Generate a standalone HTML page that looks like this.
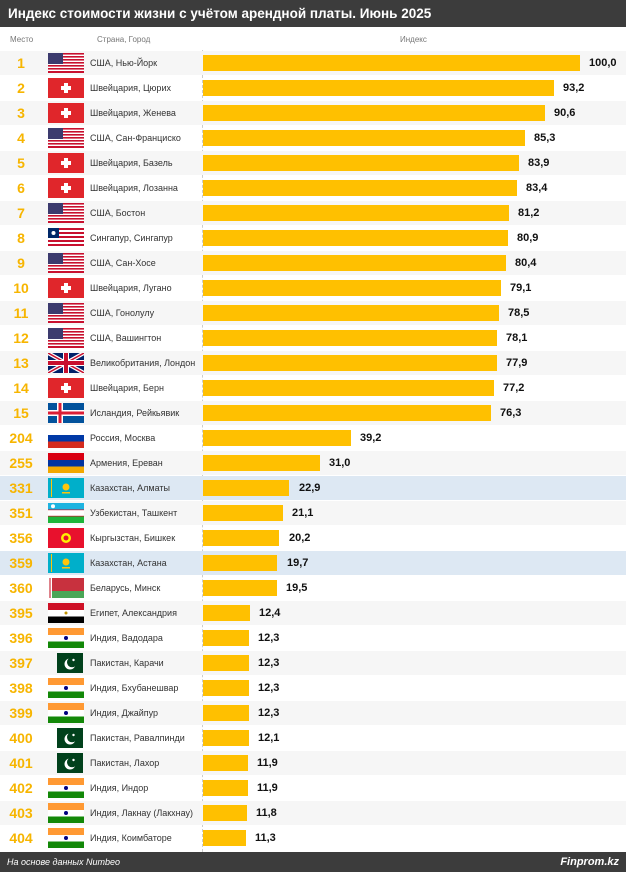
<!DOCTYPE html>
<html><head><meta charset="utf-8"><style>
*{margin:0;padding:0;box-sizing:border-box}
body{width:626px;height:872px;background:#fff;font-family:"Liberation Sans",sans-serif;position:relative;overflow:hidden}
.hd{position:absolute;left:0;top:0;width:626px;height:27px;background:#3c3c3c;color:#fff;font-weight:bold;font-size:13.5px;line-height:27px;padding-left:8px}
.ch{position:absolute;top:35px;font-size:8px;color:#777}
.ft{position:absolute;left:0;top:852px;width:626px;height:20px;background:#3c3c3c;color:#fff;font-style:italic;font-size:9px;line-height:20px;padding:0 7px}
.ft b{float:right;font-size:11px}
.r{position:absolute;left:0;width:626px;height:24px}
.r:nth-child(odd){background:#f6f6f6}
.r.kz{background:#dde8f3!important}
.n{position:absolute;left:0;width:42px;text-align:center;color:#f7b500;font-weight:bold;font-size:14px;line-height:24px}
.f{position:absolute;left:48px;top:2px}
.t{position:absolute;left:90px;font-size:9px;color:#333;line-height:24px}
.b{position:absolute;left:203px;top:4px;height:16px;background:#ffc000}
.v{position:absolute;font-size:11px;font-weight:bold;color:#111;line-height:24px;transform:translateX(3px)}
.dl{position:absolute;left:202px;top:50px;height:802px;border-left:1px dashed #ccc}
</style></head><body>
<div class="hd">Индекс стоимости жизни с учётом арендной платы. Июнь 2025</div>
<div class="ch" style="left:10px">Место</div>
<div class="ch" style="left:97px">Страна, Город</div>
<div class="ch" style="left:400px">Индекс</div>
<svg width="0" height="0" style="position:absolute"><defs>
<g id="us"><rect width="36" height="20" fill="#fff"/><g fill="#c8102e"><rect y="0" width="36" height="1.6"/><rect y="3" width="36" height="1.6"/><rect y="6" width="36" height="1.6"/><rect y="9" width="36" height="1.6"/><rect y="12" width="36" height="1.6"/><rect y="15" width="36" height="1.6"/><rect y="18" width="36" height="2"/></g><rect width="15" height="11" fill="#3c3b6e"/></g>
<g id="ch"><rect width="36" height="20" fill="#e0262b"/><rect x="16" y="5" width="4" height="10" fill="#fff"/><rect x="13" y="8" width="10" height="4" fill="#fff"/></g>
<g id="lr"><rect width="36" height="20" fill="#fff"/><g fill="#c8102e"><rect y="0" width="36" height="2"/><rect y="4" width="36" height="2"/><rect y="8" width="36" height="2"/><rect y="12" width="36" height="2"/><rect y="16" width="36" height="2"/></g><rect width="11" height="10" fill="#002868"/><circle cx="5.5" cy="5" r="2" fill="#fff"/></g>
<g id="gb"><rect width="36" height="20" fill="#012169"/><path d="M0 0L36 20M36 0L0 20" stroke="#fff" stroke-width="4"/><path d="M0 0L36 20M36 0L0 20" stroke="#c8102e" stroke-width="1.5"/><rect x="15" width="6" height="20" fill="#fff"/><rect y="7" width="36" height="6" fill="#fff"/><rect x="16" width="4" height="20" fill="#c8102e"/><rect y="8" width="36" height="4" fill="#c8102e"/></g>
<g id="is"><rect width="36" height="20" fill="#02529c"/><rect x="9" width="6" height="20" fill="#fff"/><rect y="7" width="36" height="6" fill="#fff"/><rect x="10.5" width="3" height="20" fill="#dc1e35"/><rect y="8.5" width="36" height="3" fill="#dc1e35"/></g>
<g id="ru"><rect width="36" height="7" fill="#fff"/><rect y="7" width="36" height="7" fill="#0039a6"/><rect y="13.5" width="36" height="6.5" fill="#d52b1e"/></g>
<g id="am"><rect width="36" height="7" fill="#d90012"/><rect y="7" width="36" height="7" fill="#0033a0"/><rect y="13.5" width="36" height="6.5" fill="#f2a800"/></g>
<g id="kz"><rect width="36" height="20" fill="#00afca"/><rect x="3" y="1" width="1" height="18" fill="#fec50c"/><circle cx="18" cy="9" r="3.5" fill="#fec50c"/><rect x="14" y="14" width="8" height="1.5" fill="#fec50c"/></g>
<g id="uz"><rect width="36" height="6.5" fill="#1eb3e0"/><rect y="6.5" width="36" height="7" fill="#fff"/><rect y="13.5" width="36" height="6.5" fill="#1eb53a"/><rect y="6.5" width="36" height=".7" fill="#ce1126"/><rect y="12.8" width="36" height=".7" fill="#ce1126"/><circle cx="5" cy="3.2" r="2" fill="#fff"/></g>
<g id="kg"><rect width="36" height="20" fill="#e8112d"/><circle cx="18" cy="10" r="5" fill="#ffef00"/><circle cx="18" cy="10" r="2.5" fill="#e8112d"/></g>
<g id="by"><rect width="36" height="13" fill="#c8313e"/><rect y="13" width="36" height="7" fill="#4aa657"/><rect width="4" height="20" fill="#fff"/><rect x="1" width="2" height="20" fill="#c8313e" opacity=".6"/></g>
<g id="eg"><rect width="36" height="7" fill="#ce1126"/><rect y="7" width="36" height="6.5" fill="#fff"/><rect y="13.5" width="36" height="6.5" fill="#000"/><circle cx="18" cy="10" r="1.5" fill="#c09300"/></g>
<g id="in"><rect width="36" height="7" fill="#ff9933"/><rect y="7" width="36" height="6.5" fill="#fff"/><rect y="13.5" width="36" height="6.5" fill="#138808"/><circle cx="18" cy="10" r="2" fill="#000080"/></g>
<g id="pk"><rect x="9" width="26" height="20" fill="#01411c"/><circle cx="22" cy="11" r="5.5" fill="#fff"/><circle cx="24" cy="9.3" r="5" fill="#01411c"/><circle cx="25.5" cy="7" r="1.2" fill="#fff"/></g>
</defs></svg>
<div class="dl"></div>
<div id="rows">
<div class="r" style="top:51px"><div class="n">1</div><svg class="f" width="36" height="20"><use href="#us"/></svg><div class="t">США, Нью-Йорк</div><div class="b" style="width:377px"></div><div class="v" style="left:586px">100,0</div></div>
<div class="r" style="top:76px"><div class="n">2</div><svg class="f" width="36" height="20"><use href="#ch"/></svg><div class="t">Швейцария, Цюрих</div><div class="b" style="width:351px"></div><div class="v" style="left:560px">93,2</div></div>
<div class="r" style="top:101px"><div class="n">3</div><svg class="f" width="36" height="20"><use href="#ch"/></svg><div class="t">Швейцария, Женева</div><div class="b" style="width:342px"></div><div class="v" style="left:551px">90,6</div></div>
<div class="r" style="top:126px"><div class="n">4</div><svg class="f" width="36" height="20"><use href="#us"/></svg><div class="t">США, Сан-Франциско</div><div class="b" style="width:322px"></div><div class="v" style="left:531px">85,3</div></div>
<div class="r" style="top:151px"><div class="n">5</div><svg class="f" width="36" height="20"><use href="#ch"/></svg><div class="t">Швейцария, Базель</div><div class="b" style="width:316px"></div><div class="v" style="left:525px">83,9</div></div>
<div class="r" style="top:176px"><div class="n">6</div><svg class="f" width="36" height="20"><use href="#ch"/></svg><div class="t">Швейцария, Лозанна</div><div class="b" style="width:314px"></div><div class="v" style="left:523px">83,4</div></div>
<div class="r" style="top:201px"><div class="n">7</div><svg class="f" width="36" height="20"><use href="#us"/></svg><div class="t">США, Бостон</div><div class="b" style="width:306px"></div><div class="v" style="left:515px">81,2</div></div>
<div class="r" style="top:226px"><div class="n">8</div><svg class="f" width="36" height="20"><use href="#lr"/></svg><div class="t">Сингапур, Сингапур</div><div class="b" style="width:305px"></div><div class="v" style="left:514px">80,9</div></div>
<div class="r" style="top:251px"><div class="n">9</div><svg class="f" width="36" height="20"><use href="#us"/></svg><div class="t">США, Сан-Хосе</div><div class="b" style="width:303px"></div><div class="v" style="left:512px">80,4</div></div>
<div class="r" style="top:276px"><div class="n">10</div><svg class="f" width="36" height="20"><use href="#ch"/></svg><div class="t">Швейцария, Лугано</div><div class="b" style="width:298px"></div><div class="v" style="left:507px">79,1</div></div>
<div class="r" style="top:301px"><div class="n">11</div><svg class="f" width="36" height="20"><use href="#us"/></svg><div class="t">США, Гонолулу</div><div class="b" style="width:296px"></div><div class="v" style="left:505px">78,5</div></div>
<div class="r" style="top:326px"><div class="n">12</div><svg class="f" width="36" height="20"><use href="#us"/></svg><div class="t">США, Вашингтон</div><div class="b" style="width:294px"></div><div class="v" style="left:503px">78,1</div></div>
<div class="r" style="top:351px"><div class="n">13</div><svg class="f" width="36" height="20"><use href="#gb"/></svg><div class="t">Великобритания, Лондон</div><div class="b" style="width:294px"></div><div class="v" style="left:503px">77,9</div></div>
<div class="r" style="top:376px"><div class="n">14</div><svg class="f" width="36" height="20"><use href="#ch"/></svg><div class="t">Швейцария, Берн</div><div class="b" style="width:291px"></div><div class="v" style="left:500px">77,2</div></div>
<div class="r" style="top:401px"><div class="n">15</div><svg class="f" width="36" height="20"><use href="#is"/></svg><div class="t">Исландия, Рейкьявик</div><div class="b" style="width:288px"></div><div class="v" style="left:497px">76,3</div></div>
<div class="r" style="top:426px"><div class="n">204</div><svg class="f" width="36" height="20"><use href="#ru"/></svg><div class="t">Россия, Москва</div><div class="b" style="width:148px"></div><div class="v" style="left:357px">39,2</div></div>
<div class="r" style="top:451px"><div class="n">255</div><svg class="f" width="36" height="20"><use href="#am"/></svg><div class="t">Армения, Ереван</div><div class="b" style="width:117px"></div><div class="v" style="left:326px">31,0</div></div>
<div class="r kz" style="top:476px"><div class="n">331</div><svg class="f" width="36" height="20"><use href="#kz"/></svg><div class="t">Казахстан, Алматы</div><div class="b" style="width:86px"></div><div class="v" style="left:296px">22,9</div></div>
<div class="r" style="top:501px"><div class="n">351</div><svg class="f" width="36" height="20"><use href="#uz"/></svg><div class="t">Узбекистан, Ташкент</div><div class="b" style="width:80px"></div><div class="v" style="left:289px">21,1</div></div>
<div class="r" style="top:526px"><div class="n">356</div><svg class="f" width="36" height="20"><use href="#kg"/></svg><div class="t">Кыргызстан, Бишкек</div><div class="b" style="width:76px"></div><div class="v" style="left:286px">20,2</div></div>
<div class="r kz" style="top:551px"><div class="n">359</div><svg class="f" width="36" height="20"><use href="#kz"/></svg><div class="t">Казахстан, Астана</div><div class="b" style="width:74px"></div><div class="v" style="left:284px">19,7</div></div>
<div class="r" style="top:576px"><div class="n">360</div><svg class="f" width="36" height="20"><use href="#by"/></svg><div class="t">Беларусь, Минск</div><div class="b" style="width:74px"></div><div class="v" style="left:283px">19,5</div></div>
<div class="r" style="top:601px"><div class="n">395</div><svg class="f" width="36" height="20"><use href="#eg"/></svg><div class="t">Египет, Александрия</div><div class="b" style="width:47px"></div><div class="v" style="left:256px">12,4</div></div>
<div class="r" style="top:626px"><div class="n">396</div><svg class="f" width="36" height="20"><use href="#in"/></svg><div class="t">Индия, Вадодара</div><div class="b" style="width:46px"></div><div class="v" style="left:255px">12,3</div></div>
<div class="r" style="top:651px"><div class="n">397</div><svg class="f" width="36" height="20"><use href="#pk"/></svg><div class="t">Пакистан, Карачи</div><div class="b" style="width:46px"></div><div class="v" style="left:255px">12,3</div></div>
<div class="r" style="top:676px"><div class="n">398</div><svg class="f" width="36" height="20"><use href="#in"/></svg><div class="t">Индия, Бхубанешвар</div><div class="b" style="width:46px"></div><div class="v" style="left:255px">12,3</div></div>
<div class="r" style="top:701px"><div class="n">399</div><svg class="f" width="36" height="20"><use href="#in"/></svg><div class="t">Индия, Джайпур</div><div class="b" style="width:46px"></div><div class="v" style="left:255px">12,3</div></div>
<div class="r" style="top:726px"><div class="n">400</div><svg class="f" width="36" height="20"><use href="#pk"/></svg><div class="t">Пакистан, Равалпинди</div><div class="b" style="width:46px"></div><div class="v" style="left:255px">12,1</div></div>
<div class="r" style="top:751px"><div class="n">401</div><svg class="f" width="36" height="20"><use href="#pk"/></svg><div class="t">Пакистан, Лахор</div><div class="b" style="width:45px"></div><div class="v" style="left:254px">11,9</div></div>
<div class="r" style="top:776px"><div class="n">402</div><svg class="f" width="36" height="20"><use href="#in"/></svg><div class="t">Индия, Индор</div><div class="b" style="width:45px"></div><div class="v" style="left:254px">11,9</div></div>
<div class="r" style="top:801px"><div class="n">403</div><svg class="f" width="36" height="20"><use href="#in"/></svg><div class="t">Индия, Лакнау (Лакхнау)</div><div class="b" style="width:44px"></div><div class="v" style="left:253px">11,8</div></div>
<div class="r" style="top:826px"><div class="n">404</div><svg class="f" width="36" height="20"><use href="#in"/></svg><div class="t">Индия, Коимбаторе</div><div class="b" style="width:43px"></div><div class="v" style="left:252px">11,3</div></div>
</div>
<div class="ft">На основе данных Numbeo<b>Finprom.kz</b></div>
</body></html>
